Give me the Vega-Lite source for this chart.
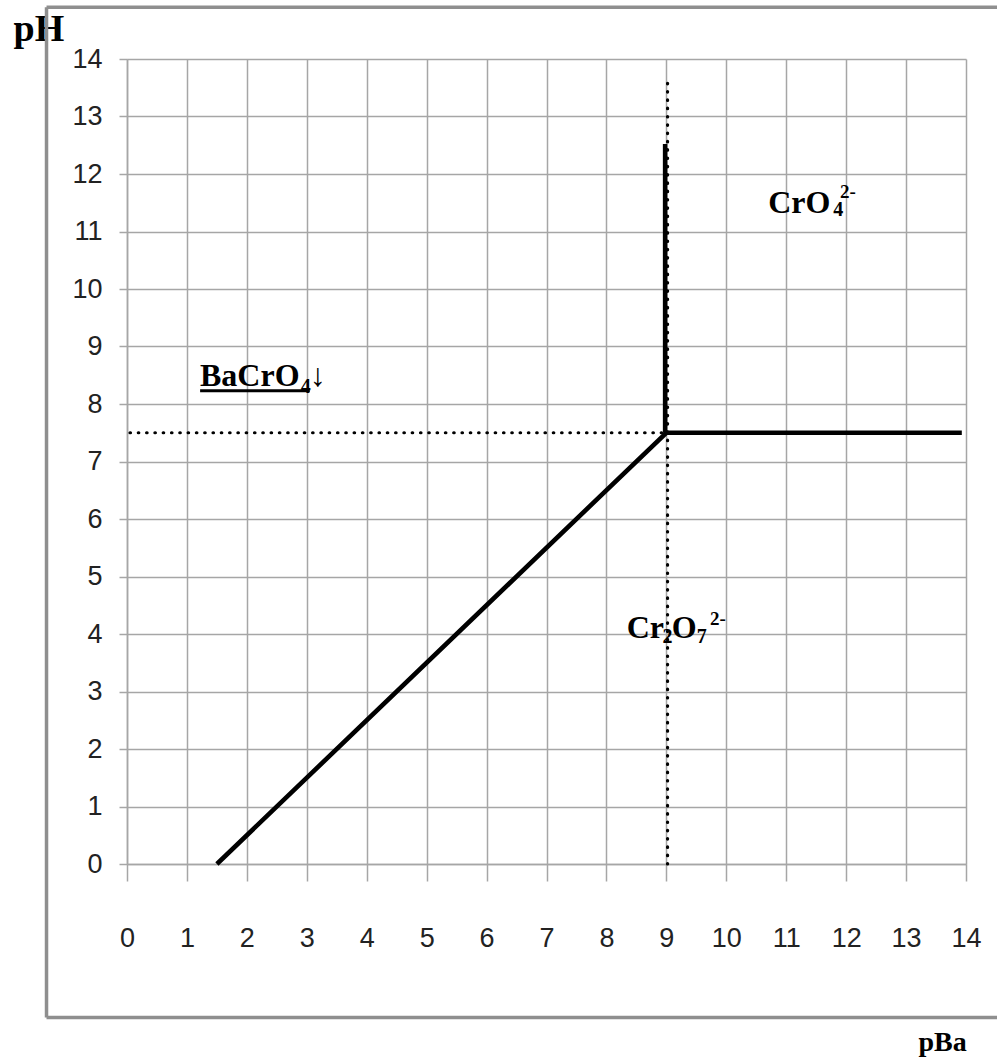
{
  "$schema": "https://vega.github.io/schema/vega-lite/v6.json",
  "width": 839,
  "height": 805,
  "autosize": {"type": "none"},
  "padding": {"left": 127, "top": 59, "right": 31, "bottom": 199},
  "background": "white",
  "config": {"view": {"stroke": null}},
  "datasets": {
    "frame": [
      {"x": -1.343, "y": 14.9, "x2": -1.343, "y2": -2.67},
      {"x": -1.343, "y": 14.9, "x2": 14.6, "y2": 14.9},
      {"x": -1.343, "y": -2.67, "x2": 14.6, "y2": -2.67}
    ],
    "dotted": [
      {"x": 0.05, "y": 7.5, "x2": 8.95, "y2": 7.5},
      {"x": 9.02, "y": 0, "x2": 9.02, "y2": 13.7}
    ],
    "solid": [
      {"s": "a", "o": 1, "x": 1.5, "y": 0},
      {"s": "a", "o": 2, "x": 9, "y": 7.5},
      {"s": "a", "o": 3, "x": 13.93, "y": 7.5},
      {"s": "b", "o": 1, "x": 8.98, "y": 7.5},
      {"s": "b", "o": 2, "x": 8.98, "y": 12.52}
    ],
    "underline": [
      {"x": 1.22, "y": 8.23, "x2": 3.05, "y2": 8.23}
    ],
    "main": [
      {"t": "BaCrO", "x": 1.218, "y": 8.306},
      {"t": "↓", "x": 3.054, "y": 8.306},
      {"t": "CrO", "x": 10.70, "y": 11.32},
      {"t": "Cr", "x": 8.338, "y": 3.93},
      {"t": "O", "x": 9.089, "y": 3.93}
    ],
    "sub": [
      {"t": "4", "x": 2.898, "y": 8.191},
      {"t": "4", "x": 11.785, "y": 11.263},
      {"t": "2", "x": 8.935, "y": 3.849},
      {"t": "7", "x": 9.506, "y": 3.849}
    ],
    "sup": [
      {"t": "2-", "x": 11.897, "y": 11.583},
      {"t": "2-", "x": 9.728, "y": 4.162}
    ]
  },
  "layer": [
    {
      "data": {"name": "frame"},
      "mark": {"type": "rule", "color": "#8f8f8f", "strokeWidth": 3.5},
      "encoding": {
        "x": {
          "field": "x", "type": "quantitative",
          "scale": {"domain": [0, 14], "nice": false, "zero": false},
          "title": "pBa",
          "axis": {
            "values": [0,1,2,3,4,5,6,7,8,9,10,11,12,13,14],
            "format": "d",
            "grid": true, "gridColor": "#a6a6a6", "gridWidth": 1.5, "gridOpacity": 1,
            "domainColor": "#a6a6a6", "domainWidth": 1.5,
            "tickColor": "#a6a6a6", "tickWidth": 1.5, "tickSize": 17,
            "labelFont": "Liberation Sans",
            "labelFontSize": 27, "labelColor": "#222222",
            "labelPadding": 57, "labelBaseline": "middle",
            "labelFlush": false, "labelOverlap": false,
            "titleFont": "Liberation Serif", "titleFontWeight": "bold", "titleFontSize": 28,
            "titleColor": "black", "titleAlign": "left", "titleBaseline": "alphabetic",
            "titleX": 791, "titleY": 186
          }
        },
        "x2": {"field": "x2"},
        "y": {
          "field": "y", "type": "quantitative",
          "scale": {"domain": [0, 14], "nice": false, "zero": false},
          "title": "pH",
          "axis": {
            "values": [0,1,2,3,4,5,6,7,8,9,10,11,12,13,14],
            "format": "d",
            "grid": true, "gridColor": "#a6a6a6", "gridWidth": 1.5, "gridOpacity": 1,
            "domainColor": "#a6a6a6", "domainWidth": 1.5,
            "tickColor": "#a6a6a6", "tickWidth": 1.5, "tickSize": 8,
            "labelFont": "Liberation Sans",
            "labelFontSize": 27, "labelColor": "#222222",
            "labelPadding": 17, "labelFlush": false, "labelOverlap": false,
            "titleFont": "Liberation Serif", "titleFontWeight": "bold", "titleFontSize": 38,
            "titleColor": "black", "titleAngle": 0, "titleAlign": "left", "titleBaseline": "alphabetic",
            "titleX": -114, "titleY": -19
          }
        },
        "y2": {"field": "y2"}
      }
    },
    {
      "data": {"name": "dotted"},
      "mark": {"type": "rule", "color": "black", "strokeWidth": 3.2, "strokeCap": "round", "strokeDash": [0.5, 7.8]},
      "encoding": {
        "x": {"field": "x", "type": "quantitative"},
        "x2": {"field": "x2"},
        "y": {"field": "y", "type": "quantitative"},
        "y2": {"field": "y2"}
      }
    },
    {
      "data": {"name": "solid"},
      "mark": {"type": "line", "color": "black", "strokeWidth": 4.6, "strokeJoin": "miter"},
      "encoding": {
        "x": {"field": "x", "type": "quantitative"},
        "y": {"field": "y", "type": "quantitative"},
        "detail": {"field": "s", "type": "nominal"},
        "order": {"field": "o", "type": "quantitative"}
      }
    },
    {
      "data": {"name": "underline"},
      "mark": {"type": "rule", "color": "black", "strokeWidth": 3},
      "encoding": {
        "x": {"field": "x", "type": "quantitative"},
        "x2": {"field": "x2"},
        "y": {"field": "y", "type": "quantitative"},
        "y2": {"field": "y2"}
      }
    },
    {
      "data": {"name": "main"},
      "mark": {"type": "text", "font": "Liberation Serif", "fontWeight": "bold", "fontSize": 32, "align": "left", "baseline": "alphabetic", "color": "black"},
      "encoding": {
        "x": {"field": "x", "type": "quantitative"},
        "y": {"field": "y", "type": "quantitative"},
        "text": {"field": "t"}
      }
    },
    {
      "data": {"name": "sub"},
      "mark": {"type": "text", "font": "Liberation Serif", "fontWeight": "bold", "fontSize": 20, "align": "left", "baseline": "alphabetic", "color": "black"},
      "encoding": {
        "x": {"field": "x", "type": "quantitative"},
        "y": {"field": "y", "type": "quantitative"},
        "text": {"field": "t"}
      }
    },
    {
      "data": {"name": "sup"},
      "mark": {"type": "text", "font": "Liberation Serif", "fontWeight": "bold", "fontSize": 19, "align": "left", "baseline": "alphabetic", "color": "black"},
      "encoding": {
        "x": {"field": "x", "type": "quantitative"},
        "y": {"field": "y", "type": "quantitative"},
        "text": {"field": "t"}
      }
    }
  ]
}
